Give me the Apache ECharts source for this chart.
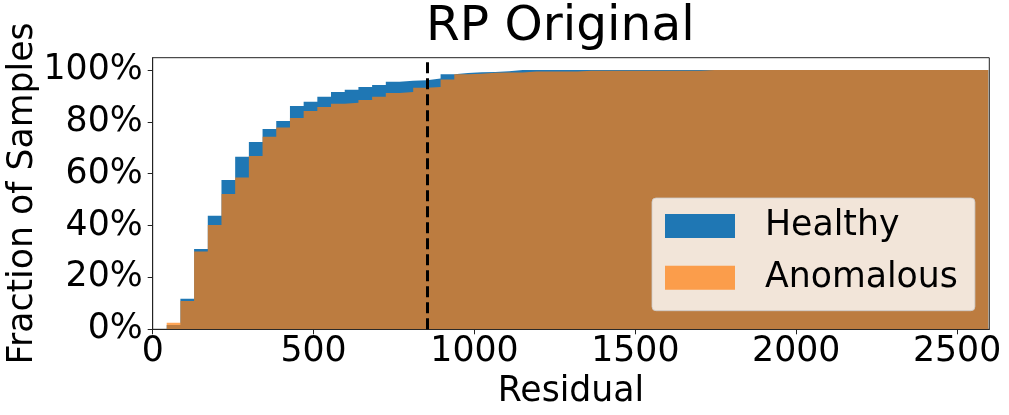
<!DOCTYPE html>
<html>
<head>
<meta charset="utf-8">
<script src="https://cdn.jsdelivr.net/npm/echarts@6/dist/echarts.min.js"></script>
<style>
html,body{margin:0;padding:0;background:#fff;}
#chart{width:1009px;height:415px;}
</style>
</head>
<body>
<div id="chart"></div>
<script>
// ---- data ----
const titleText = 'RP Original';
const seriesNames = ['Healthy', 'Anomalous'];
const binStart = 43.5;      // left edge of first histogram bin (Residual units)
const binWidth = 42.56;     // width of each bin
// cumulative fraction per bin (60 bins)
const healthy = [
  0.017, 0.118, 0.310, 0.438, 0.576, 0.665, 0.722, 0.772, 0.803, 0.861,
  0.877, 0.896, 0.915, 0.923, 0.934, 0.942, 0.954, 0.958, 0.960, 0.967,
  0.983, 0.988, 0.991, 0.992, 0.995, 1.000, 1.000, 1.000, 1.000, 1.000,
  1.000, 1.000, 1.000, 1.000, 1.000, 1.000, 1.000, 1.000, 1.000, 1.000,
  1.000, 1.000, 1.000, 1.000, 1.000, 1.000, 1.000, 1.000, 1.000, 1.000,
  1.000, 1.000, 1.000, 1.000, 1.000, 1.000, 1.000, 1.000, 1.000, 1.000
];
const anomalous = [
  0.025, 0.109, 0.300, 0.402, 0.522, 0.585, 0.668, 0.742, 0.778, 0.815,
  0.842, 0.857, 0.869, 0.873, 0.884, 0.896, 0.911, 0.915, 0.931, 0.934,
  0.963, 0.983, 0.985, 0.989, 0.990, 0.990, 0.9935, 0.9935, 0.9935, 0.9935,
  0.997, 0.997, 0.997, 0.997, 0.997, 0.997, 0.997, 0.997, 0.997, 1.000,
  1.000, 1.000, 1.000, 1.000, 1.000, 1.000, 1.000, 1.000, 1.000, 1.000,
  1.000, 1.000, 1.000, 1.000, 1.000, 1.000, 1.000, 1.000, 1.000, 1.000
];
const threshold = 854;
const xTicks = [0, 500, 1000, 1500, 2000, 2500];
const yTicks = [0, 0.2, 0.4, 0.6, 0.8, 1.0];
const xMin = 0, xMax = 2600, yMin = 0, yMax = 1.047;
const xName = 'Residual';
const yName = 'Fraction of Samples';

// ---- build ----
function stepPoints(vals) {
  const pts = [];
  for (let i = 0; i <= vals.length; i++) {
    pts.push([binStart + i * binWidth, vals[Math.min(i, vals.length - 1)]]);
  }
  return pts;
}
const FONT = 'DejaVu Sans';
const FS = 34.7;
const chart = echarts.init(document.getElementById('chart'), null, {renderer: 'canvas'});
chart.setOption({
  animation: false,
  backgroundColor: '#fff',
  title: {
    text: titleText, left: 421, top: -2,
    textStyle: {fontFamily: FONT, fontSize: 48.6, fontWeight: 'normal', color: '#000'}
  },
  grid: {
    left: 152.7, right: 19.7, top: 57.7, bottom: 85.7,
    outerBoundsMode: 'none', containLabel: false,
    show: true, borderColor: '#222', borderWidth: 1, backgroundColor: 'transparent'
  },
  legend: {
    orient: 'vertical', left: 652, top: 198,
    icon: 'rect', itemWidth: 70, itemHeight: 24, itemGap: 13.7,
    padding: [9, 17, 14, 13],
    backgroundColor: 'rgba(255,255,255,0.8)',
    borderColor: 'rgba(204,204,204,0.8)', borderWidth: 1, borderRadius: 4,
    textStyle: {fontFamily: FONT, fontSize: FS, color: '#000', lineHeight: 38, padding: [0, 0, 0, 25]},
    data: [
      {name: seriesNames[0], itemStyle: {color: '#1f77b4', opacity: 1}},
      {name: seriesNames[1], itemStyle: {color: 'rgba(255,127,14,0.7)', opacity: 1}}
    ]
  },
  xAxis: {
    type: 'value', min: xMin, max: xMax, interval: 500,
    name: xName, nameLocation: 'middle', nameGap: 42,
    nameTextStyle: {fontFamily: FONT, fontSize: FS, color: '#000'},
    axisLine: {show: true, onZero: false, lineStyle: {color: '#222', width: 1}},
    axisTick: {show: true, length: 5, inside: false, customValues: xTicks, lineStyle: {color: '#222'}},
    axisLabel: {customValues: xTicks, fontFamily: FONT, fontSize: FS, color: '#000', margin: 5,
      formatter: v => String(v)},
    splitLine: {show: false}
  },
  yAxis: {
    type: 'value', min: yMin, max: yMax,
    name: yName, nameLocation: 'middle', nameGap: 112, nameRotate: 90, nameMoveOverlap: false,
    nameTextStyle: {fontFamily: FONT, fontSize: FS, color: '#000'},
    axisLine: {show: true, onZero: false, lineStyle: {color: '#222', width: 1}},
    axisTick: {show: true, length: 5, inside: false, customValues: yTicks, lineStyle: {color: '#222'}},
    axisLabel: {customValues: yTicks, fontFamily: FONT, fontSize: FS, color: '#000', margin: 10,
      formatter: v => Math.round(v * 100) + '%'},
    splitLine: {show: false}
  },
  series: [
    {
      name: seriesNames[0], type: 'line', step: 'end', data: stepPoints(healthy),
      showSymbol: false, symbol: 'none', silent: true,
      lineStyle: {width: 0, opacity: 0}, itemStyle: {color: '#1f77b4'},
      areaStyle: {color: '#1f77b4', opacity: 1}, z: 2
    },
    {
      name: seriesNames[1], type: 'line', step: 'end', data: stepPoints(anomalous),
      showSymbol: false, symbol: 'none', silent: true,
      lineStyle: {width: 0, opacity: 0}, itemStyle: {color: '#ff7f0e'},
      areaStyle: {color: '#ff7f0e', opacity: 0.7}, z: 3
    },
    {
      name: 'threshold', type: 'line', data: [[threshold, yMin], [threshold, yMax]],
      showSymbol: false, symbol: 'none', silent: true,
      lineStyle: {color: '#000', width: 3, type: [11, 5], cap: 'butt'}, z: 5
    }
  ]
});
</script>
</body>
</html>
